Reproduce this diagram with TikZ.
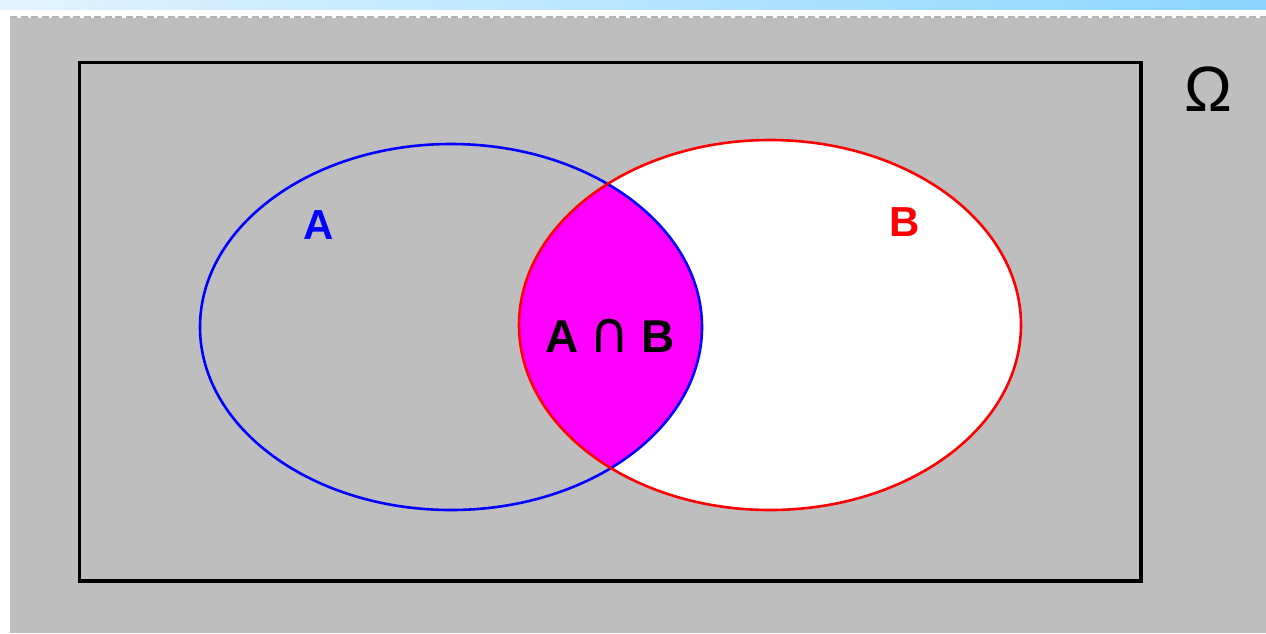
\documentclass[tikz,border=0pt]{standalone}
\usepackage{fontspec}
\setmainfont{Liberation Sans}
\newfontfamily\symfont{DejaVu Sans}
\definecolor{bggray}{HTML}{BEBEBE}
\definecolor{skyL}{HTML}{E2F3FF}
\definecolor{skyR}{HTML}{8CD6FF}
\definecolor{dashgray}{HTML}{B4B4B4}
\definecolor{magentaF}{HTML}{FF00FF}
\definecolor{blueA}{HTML}{0000FF}
\definecolor{redB}{HTML}{FF0000}
\tikzset{
  lbl/.style={font=\fontsize{42}{44}\selectfont\bfseries, inner sep=0pt},
  setA/.style={draw=blueA, line width=2.6pt},
  setB/.style={draw=redB, line width=2.6pt},
}
\begin{document}
\begin{tikzpicture}[x=1pt,y=-1pt]
\useasboundingbox (0,0) rectangle (1266,633);
\fill[white] (0,0) rectangle (1266,633);
\shade[left color=skyL, right color=skyR] (0,0) rectangle (1266,9);
\fill[bggray] (10,18) rectangle (1266,633);
\draw[dashgray, line width=2.5pt, dash pattern=on 7pt off 3.5pt] (10,17) -- (1266,17);
% universe
\draw[black, line width=3.5pt] (79.5,62.5) rectangle (1141,581);
\node[inner sep=0pt, font=\fontsize{64}{66}\selectfont] (omega) at (1208,89) {Ω};
% set B fill
\fill[white] (770,325) ellipse [x radius=251pt, y radius=185pt];
% intersection
\begin{scope}
  \clip (451,327) ellipse [x radius=251pt, y radius=183pt];
  \fill[magentaF] (770,325) ellipse [x radius=251pt, y radius=185pt];
\end{scope}
% outlines
\draw[setA] (451,327) ellipse [x radius=251pt, y radius=183pt];
\draw[setB] (770,325) ellipse [x radius=251pt, y radius=185pt];
% labels
\node[lbl, text=blueA] (labA) at (319,225) {A};
\node[lbl, text=redB] (labB) at (905,222) {B};
\node[inner sep=0pt, font=\fontsize{46}{48}\selectfont\bfseries] (labAB) at (610,336) {A\hspace{0.25em}{\symfont\mdseries\scalebox{1.2}[1.25]{∩}}\hspace{0.25em}B};
\end{tikzpicture}
\end{document}
